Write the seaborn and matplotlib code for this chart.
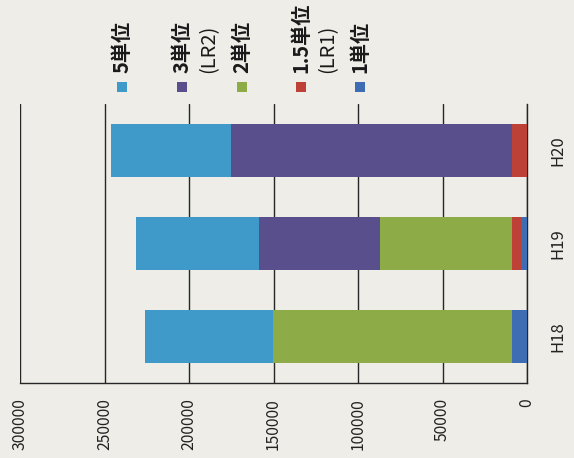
import matplotlib
matplotlib.use("Agg")
import matplotlib.pyplot as plt
from matplotlib.patches import Rectangle
import seaborn as sns
import pandas as pd
import numpy as np

# ---- data ----
categories = ["H20", "H19", "H18"]
series_names = ["1単位", "1.5単位(LR1)", "2単位", "3単位(LR2)", "5単位"]
unit1 = [0, 3700, 8600]
unit15 = [8800, 5000, 0]
unit2 = [0, 78400, 141900]
unit3 = [166100, 71500, 0]
unit5 = [71500, 72500, 75800]
x_ticks = [0, 50000, 100000, 150000, 200000, 250000, 300000]

colors = {
    "1単位": "#3E6DB3",
    "1.5単位(LR1)": "#BE4138",
    "2単位": "#8DAC48",
    "3単位(LR2)": "#5A4F8D",
    "5単位": "#3F99C9",
}
bg = "#EEEDE8"

sns.set_theme(style="white")
plt.rcParams["font.family"] = ["Noto Sans CJK JP", "DejaVu Sans"]

fig = plt.figure(figsize=(5.74, 4.58), dpi=100, facecolor=bg)
ax = fig.add_axes([20 / 574, (458 - 383) / 458, 507 / 574, 279 / 458])
ax.set_facecolor(bg)

values = [unit1, unit15, unit2, unit3, unit5]
cum = np.cumsum(np.array(values, dtype=float), axis=0)

# draw cumulative totals from largest to smallest so the stack shows
for i in range(len(series_names) - 1, -1, -1):
    df = pd.DataFrame({"cat": categories, "val": cum[i]})
    sns.barplot(data=df, y="cat", x="val", orient="h", order=categories,
                color=colors[series_names[i]], saturation=1, width=0.57,
                edgecolor="none", linewidth=0, ax=ax, zorder=3)

ax.set_xlim(300000, 0)
ax.set_ylim(2.5, -0.5)
ax.set_xticks(x_ticks)
ax.set_xticklabels([str(t) for t in x_ticks], rotation=90, fontsize=11.3, color="#222222")
ax.tick_params(axis="x", length=0, pad=11)
ax.grid(axis="x", color="#262626", linewidth=1.0, zorder=0)
ax.set_axisbelow(True)

ax.yaxis.tick_right()
ax.set_yticks(range(len(categories)))
ax.set_yticklabels(categories, rotation=90, va="center", fontsize=12, color="#222222")
ax.tick_params(axis="y", length=0, pad=16)
ax.set_xlabel("")
ax.set_ylabel("")

for s in ["top", "left"]:
    ax.spines[s].set_visible(False)
for s in ["bottom", "right"]:
    ax.spines[s].set_visible(True)
    ax.spines[s].set_color("#262626")
    ax.spines[s].set_linewidth(1.0)

# ---- legend (rotated, drawn manually) ----
W, H = 574, 458
legend_items = [
    (122, [("5単位", 0)], "5単位"),
    (182, [("3単位", 0), ("(LR2)", 27)], "3単位(LR2)"),
    (242, [("2単位", 0)], "2単位"),
    (301, [("1.5単位", 0), ("(LR1)", 27)], "1.5単位(LR1)"),
    (360, [("1単位", 0)], "1単位"),
]
for xc, lines, key in legend_items:
    fig.patches.append(Rectangle(((xc - 5) / W, (H - 92) / H), 10 / W, 10 / H,
                                 transform=fig.transFigure, facecolor=colors[key],
                                 edgecolor="none"))
    for txt, dx in lines:
        fig.text((xc + dx) / W, (H - 73) / H, txt, rotation=90, ha="center",
                 va="bottom", fontsize=14.5, color="#1a1a1a",
                 fontweight="bold" if "単" in txt else "normal")

fig.savefig("out.png", dpi=100, facecolor=bg)
